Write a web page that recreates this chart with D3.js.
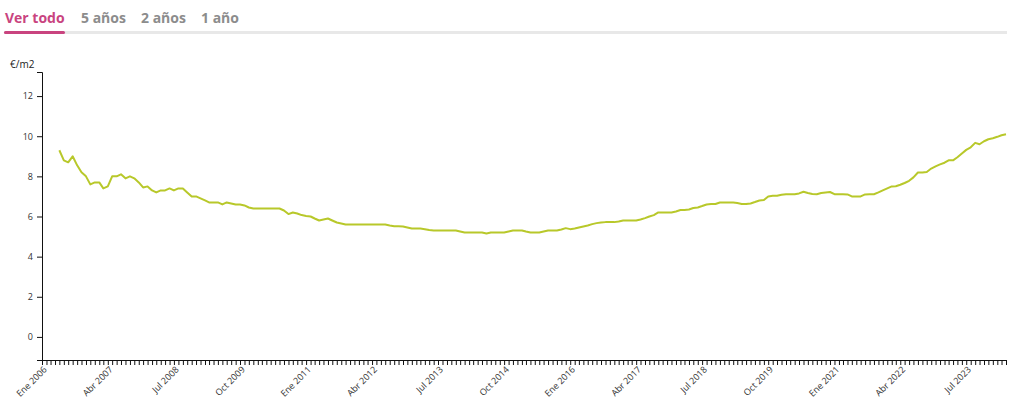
<!DOCTYPE html>
<html>
<head>
<meta charset="utf-8">
<script src="https://cdn.jsdelivr.net/npm/d3@7"></script>
<style>
  body { margin: 0; background: #fff; font-family: "Open Sans", sans-serif; }
  .axis text { font-family: "Open Sans", sans-serif; font-size: 9px; fill: #333; }
  .axis path, .axis line { stroke: #111; }
</style>
</head>
<body>
<div id="chart"></div>
<script>
// tabs over the chart
var tabs = ['Ver todo', '5 años', '2 años', '1 año'];

// monthly price, first value is May 2006
var firstMonth = '2006-05';
var values = [
  9.3, 8.8, 8.7, 9.0, 8.55, 8.2, 8.0, 7.6,                              // 2006
  7.7, 7.7, 7.4, 7.5, 8.0, 8.0, 8.1, 7.9, 8.0, 7.9, 7.7, 7.45,         // 2007
  7.5, 7.3, 7.2, 7.3, 7.3, 7.4, 7.3, 7.4, 7.4, 7.2, 7.0, 7.0,          // 2008
  6.9, 6.8, 6.7, 6.7, 6.7, 6.6, 6.7, 6.65, 6.6, 6.6, 6.55, 6.45,       // 2009
  6.4, 6.4, 6.4, 6.4, 6.4, 6.4, 6.4, 6.3, 6.12, 6.2, 6.15, 6.07,       // 2010
  6.03, 6.0, 5.9, 5.8, 5.85, 5.9, 5.8, 5.7, 5.65, 5.6, 5.6, 5.6,       // 2011
  5.6, 5.6, 5.6, 5.6, 5.6, 5.6, 5.6, 5.55, 5.52, 5.52, 5.5, 5.45,      // 2012
  5.4, 5.4, 5.4, 5.37, 5.33, 5.3, 5.3, 5.3, 5.3, 5.3, 5.3, 5.25,       // 2013
  5.2, 5.2, 5.2, 5.2, 5.2, 5.15, 5.2, 5.2, 5.2, 5.2, 5.25, 5.3,        // 2014
  5.3, 5.3, 5.25, 5.2, 5.2, 5.2, 5.25, 5.3, 5.3, 5.3, 5.35, 5.42,      // 2015
  5.37, 5.4, 5.45, 5.5, 5.55, 5.62, 5.67, 5.7, 5.72, 5.72, 5.72, 5.75, // 2016
  5.8, 5.8, 5.8, 5.8, 5.85, 5.92, 6.0, 6.07, 6.2, 6.2, 6.2, 6.2,       // 2017
  6.25, 6.32, 6.33, 6.35, 6.42, 6.45, 6.52, 6.6, 6.62, 6.62, 6.7, 6.7, // 2018
  6.7, 6.7, 6.67, 6.62, 6.62, 6.65, 6.72, 6.8, 6.82, 7.0, 7.03, 7.03,  // 2019
  7.08, 7.11, 7.11, 7.11, 7.15, 7.23, 7.17, 7.12, 7.11, 7.17, 7.2, 7.22, // 2020
  7.11, 7.11, 7.11, 7.1, 7.0, 7.0, 7.0, 7.1, 7.11, 7.11, 7.2, 7.3,     // 2021
  7.4, 7.5, 7.51, 7.58, 7.67, 7.78, 7.95, 8.19, 8.19, 8.22, 8.39, 8.5, // 2022
  8.6, 8.68, 8.8, 8.8, 8.95, 9.14, 9.32, 9.45, 9.67, 9.6, 9.75, 9.85,  // 2023
  9.9, 9.97, 10.05, 10.1                                               // 2024
];

// labelled ticks on the time axis
var xTickLabels = ['Ene 2006', 'Abr 2007', 'Jul 2008', 'Oct 2009', 'Ene 2011', 'Abr 2012',
  'Jul 2013', 'Oct 2014', 'Ene 2016', 'Abr 2017', 'Jul 2018', 'Oct 2019', 'Ene 2021',
  'Abr 2022', 'Jul 2023'];
var yTicks = [0, 2, 4, 6, 8, 10, 12];
var yUnit = '€/m2';

var monthNames = ['Ene', 'Feb', 'Mar', 'Abr', 'May', 'Jun', 'Jul', 'Ago', 'Sep', 'Oct', 'Nov', 'Dic'];

var width = 1024, height = 413;
var margin = {top: 72, right: 18, bottom: 53, left: 42};

var parseMonth = d3.timeParse('%Y-%m');
var start = parseMonth(firstMonth);
var data = values.map(function(v, i) {
  return { date: d3.timeMonth.offset(start, i), value: v };
});

var svg = d3.select('#chart').append('svg')
  .attr('width', width)
  .attr('height', height);

// --- tabs ---
var tabG = svg.append('g').attr('class', 'tabs');
tabG.append('rect')
  .attr('x', 4).attr('y', 31).attr('width', 1003).attr('height', 3)
  .attr('fill', '#e8e8e8');
var tabX = [5, 81, 141, 201];
tabG.selectAll('text').data(tabs).enter()
  .append('text')
  .attr('x', function(d, i) { return tabX[i]; })
  .attr('y', 23)
  .attr('font-family', 'Open Sans, sans-serif')
  .attr('font-weight', 700)
  .attr('font-size', 14)
  .attr('fill', function(d, i) { return i === 0 ? '#c9447f' : '#8c8c8c'; })
  .text(function(d) { return d; });
tabG.append('rect')
  .attr('x', 4).attr('y', 31).attr('width', 61).attr('height', 3).attr('rx', 1.5)
  .attr('fill', '#c9447f');

// --- scales ---
var x = d3.scaleTime()
  .domain([parseMonth('2006-01'), parseMonth('2024-04')])
  .range([margin.left, width - margin.right]);

var y = d3.scaleLinear()
  .domain([-1.15, 13.2])
  .range([height - margin.bottom, margin.top]);

// --- axes ---
var yAxis = d3.axisLeft(y).tickValues(yTicks).tickSize(5).tickPadding(4);
svg.append('g').attr('class', 'axis y-axis')
  .attr('transform', 'translate(' + margin.left + ',0)')
  .call(yAxis);

function monthLabel(d) {
  var s = monthNames[d.getMonth()] + ' ' + d.getFullYear();
  return xTickLabels.indexOf(s) >= 0 ? s : '';
}

var xAxis = d3.axisBottom(x)
  .ticks(d3.timeMonth.every(1))
  .tickSize(5)
  .tickFormat(monthLabel);
var xg = svg.append('g').attr('class', 'axis x-axis')
  .attr('transform', 'translate(0,' + (height - margin.bottom) + ')')
  .call(xAxis);
xg.selectAll('text')
  .attr('text-anchor', 'end')
  .attr('dx', '-0.4em')
  .attr('dy', '0.3em')
  .attr('transform', 'rotate(-45)');

svg.append('text')
  .attr('x', 10).attr('y', 68)
  .attr('font-family', 'Open Sans, sans-serif')
  .attr('font-size', 10)
  .attr('fill', '#222')
  .text(yUnit);

// --- line ---
var line = d3.line()
  .x(function(d) { return x(d.date); })
  .y(function(d) { return y(d.value); });

svg.append('path')
  .datum(data)
  .attr('fill', 'none')
  .attr('stroke', '#b8c82a')
  .attr('stroke-width', 2)
  .attr('stroke-linejoin', 'round')
  .attr('d', line);
</script>
</body>
</html>
